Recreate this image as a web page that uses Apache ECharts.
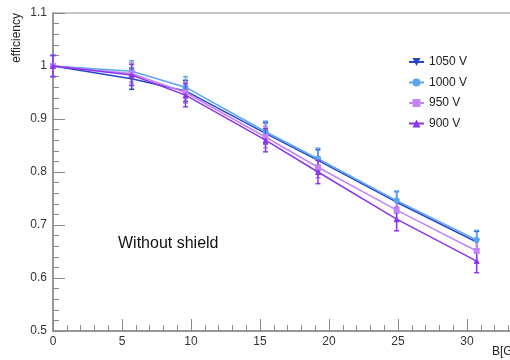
<!DOCTYPE html>
<html><head><meta charset="utf-8">
<script src="https://cdn.jsdelivr.net/npm/echarts@6/dist/echarts.min.js"></script>
<style>html,body{margin:0;padding:0;background:#fff}#c{width:510px;height:360px}</style>
</head><body><div id="c"></div>
<script>
const bField = [0, 5.7, 9.6, 15.4, 19.2, 24.9, 30.7];
const eff1050 = [1.0, 0.976, 0.953, 0.873, 0.822, 0.743, 0.668];
const eff1000 = [1.0, 0.990, 0.960, 0.876, 0.825, 0.746, 0.672];
const eff950  = [1.0, 0.986, 0.950, 0.866, 0.809, 0.728, 0.651];
const eff900  = [1.0, 0.983, 0.945, 0.860, 0.800, 0.711, 0.632];
const err1050 = [0.02, 0.02, 0.02, 0.02, 0.02, 0.02, 0.02];
const err1000 = [0.02, 0.02, 0.02, 0.02, 0.02, 0.018, 0.018];
const err950  = [0.02, 0.02, 0.02, 0.02, 0.02, 0.02, 0.02];
const err900  = [0.02, 0.02, 0.022, 0.022, 0.022, 0.022, 0.022];
const seriesNames = ['1050 V', '1000 V', '950 V', '900 V'];
const xTicks = [0, 5, 10, 15, 20, 25, 30];
const yTicks = [0.5, 0.6, 0.7, 0.8, 0.9, 1, 1.1];

const colors = ['#2646c8', '#5aa6f2', '#c484f6', '#8c34ee'];
const symbols = ['triangle', 'circle', 'rect', 'triangle'];
const symRot = [180, 0, 0, 0];
const vals = [eff1050, eff1000, eff950, eff900];
const errs = [err1050, err1000, err950, err900];

const chart = echarts.init(document.getElementById('c'), null, {renderer: 'canvas'});
const series = [];
vals.forEach((v, i) => {
  series.push({
    type: 'line', name: seriesNames[i], z: 3 + i,
    data: bField.map((x, k) => [x, v[k]]),
    symbol: symbols[i], symbolRotate: symRot[i], symbolSize: 6,
    lineStyle: {color: colors[i], width: 1.5},
    itemStyle: {color: colors[i]},
    animation: false
  });
  series.push({
    type: 'custom', name: seriesNames[i] + ' err', z: 2 + i,
    data: bField.map((x, k) => [x, v[k] - errs[i][k], v[k] + errs[i][k]]),
    renderItem: (params, api) => {
      const lo = api.coord([api.value(0), api.value(1)]);
      const hi = api.coord([api.value(0), api.value(2)]);
      const st = {stroke: colors[i], lineWidth: 1.5};
      return {type: 'group', children: [
        {type: 'line', shape: {x1: lo[0], y1: lo[1], x2: hi[0], y2: hi[1]}, style: st},
        {type: 'line', shape: {x1: lo[0]-2.5, y1: lo[1], x2: lo[0]+2.5, y2: lo[1]}, style: st},
        {type: 'line', shape: {x1: hi[0]-2.5, y1: hi[1], x2: hi[0]+2.5, y2: hi[1]}, style: st}
      ]};
    },
    silent: true
  });
});

const axisCol = '#8a8a8a';
chart.setOption({
  animation: false,
  grid: {left: 53, top: 13, width: 483, height: 318, show: true, borderColor: axisCol, borderWidth: 1,
    containLabel: false, outerBoundsMode: 'none'},
  legend: {
    data: seriesNames,
    orient: 'vertical', left: 403, top: 51, itemGap: 8.5, itemWidth: 15, itemHeight: 10,
    textStyle: {fontFamily: 'Liberation Sans', fontSize: 12, color: '#222'}
  },
  xAxis: {
    type: 'value', min: 0, max: 35, interval: 5,
    axisLine: {show: true, lineStyle: {color: axisCol, width: 1.5}},
    axisTick: {show: true, inside: true, length: 12, lineStyle: {color: axisCol}},
    minorTick: {show: true, splitNumber: 5, length: 6, lineStyle: {color: axisCol}},
    splitLine: {show: false},
    axisLabel: {fontFamily: 'Liberation Sans', fontSize: 12, color: '#333', margin: 5,
      formatter: v => xTicks.includes(v) ? String(v) : ''}
  },
  yAxis: {
    type: 'value', min: 0.5, max: 1.1, interval: 0.1,
    axisLine: {show: true, lineStyle: {color: axisCol, width: 1.5}},
    axisTick: {show: true, inside: true, length: 12, lineStyle: {color: axisCol}},
    minorTick: {show: true, splitNumber: 5, length: 6, lineStyle: {color: axisCol}},
    splitLine: {show: false},
    axisLabel: {fontFamily: 'Liberation Sans', fontSize: 12, color: '#333', margin: 6,
      formatter: v => { const t = yTicks.find(y => Math.abs(y - v) < 1e-6); return t === undefined ? '' : String(t); }}
  },
  graphic: [
    {type: 'text', x: 17, y: 13, rotation: Math.PI / 2,
      style: {text: 'efficiency', fontFamily: 'Liberation Sans', fontSize: 12, fill: '#222', align: 'right', verticalAlign: 'middle'}},
    {type: 'text', x: 492, y: 346,
      style: {text: 'B[Gauss]', fontFamily: 'Liberation Sans', fontSize: 12, fill: '#222'}},
    {type: 'text', x: 118, y: 236,
      style: {text: 'Without shield', fontFamily: 'Liberation Sans', fontSize: 16, fill: '#111'}}
  ],
  series: series
});
</script></body></html>
